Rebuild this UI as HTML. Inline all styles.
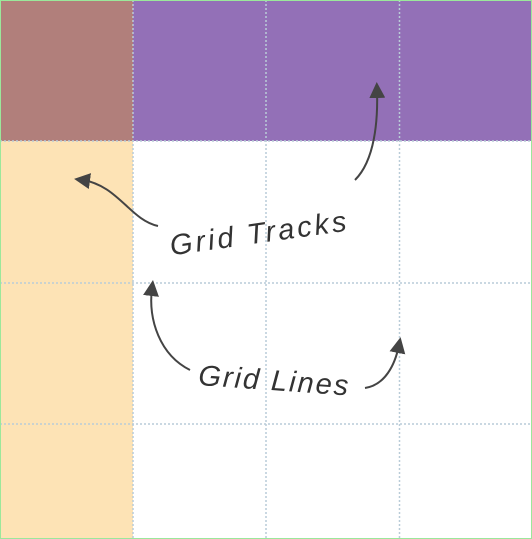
<!DOCTYPE html>
<html><head><meta charset="utf-8"><style>
html,body{margin:0;padding:0;background:#fff;}
svg{display:block;}
text{font-family:"Liberation Sans",sans-serif;font-style:italic;fill:#333;}
</style></head><body>
<svg width="532" height="539" viewBox="0 0 532 539">
  <rect x="0" y="0" width="532" height="539" fill="#fff"/>
  <rect x="133" y="0" width="399" height="141" fill="#9370b7"/>
  <rect x="0" y="141" width="133" height="398" fill="#fde3b5"/>
  <rect x="0" y="0" width="133" height="141" fill="#b17f7b"/>
  <g stroke="#b9ccd8" stroke-width="1.5" stroke-dasharray="2,2">
    <line x1="133" y1="0" x2="133" y2="539"/>
    <line x1="266" y1="0" x2="266" y2="539"/>
    <line x1="399.5" y1="0" x2="399.5" y2="539"/>
    <line x1="0" y1="141" x2="532" y2="141"/>
    <line x1="0" y1="283" x2="532" y2="283"/>
    <line x1="0" y1="424" x2="532" y2="424"/>
  </g>
  <rect x="0.5" y="0.5" width="531" height="538" fill="none" stroke="#9be89b" stroke-width="1"/>
  <defs>
    <marker id="ah" markerWidth="8" markerHeight="8" refX="4" refY="4" orient="auto"><path d="M0,0 L8,4 L0,8 Z" fill="#444"/></marker>
  </defs>
  <g fill="none" stroke="#444" stroke-width="2">
    <path d="M158,226 C130,220 118,185 82,180" marker-end="url(#ah)"/>
    <path d="M355,180 C375,160 378,120 377,90" marker-end="url(#ah)"/>
    <path d="M190,370 C160,355 148,320 152,288" marker-end="url(#ah)"/>
    <path d="M365,388 C385,385 395,365 399,345" marker-end="url(#ah)"/>
  </g>
  <text x="168" y="243" font-size="29" letter-spacing="3" transform="rotate(-8 258 225)">Grid Tracks</text>
  <text x="198" y="390" font-size="29" letter-spacing="2" transform="rotate(4 270 385)">Grid Lines</text>
</svg>
</body></html>
